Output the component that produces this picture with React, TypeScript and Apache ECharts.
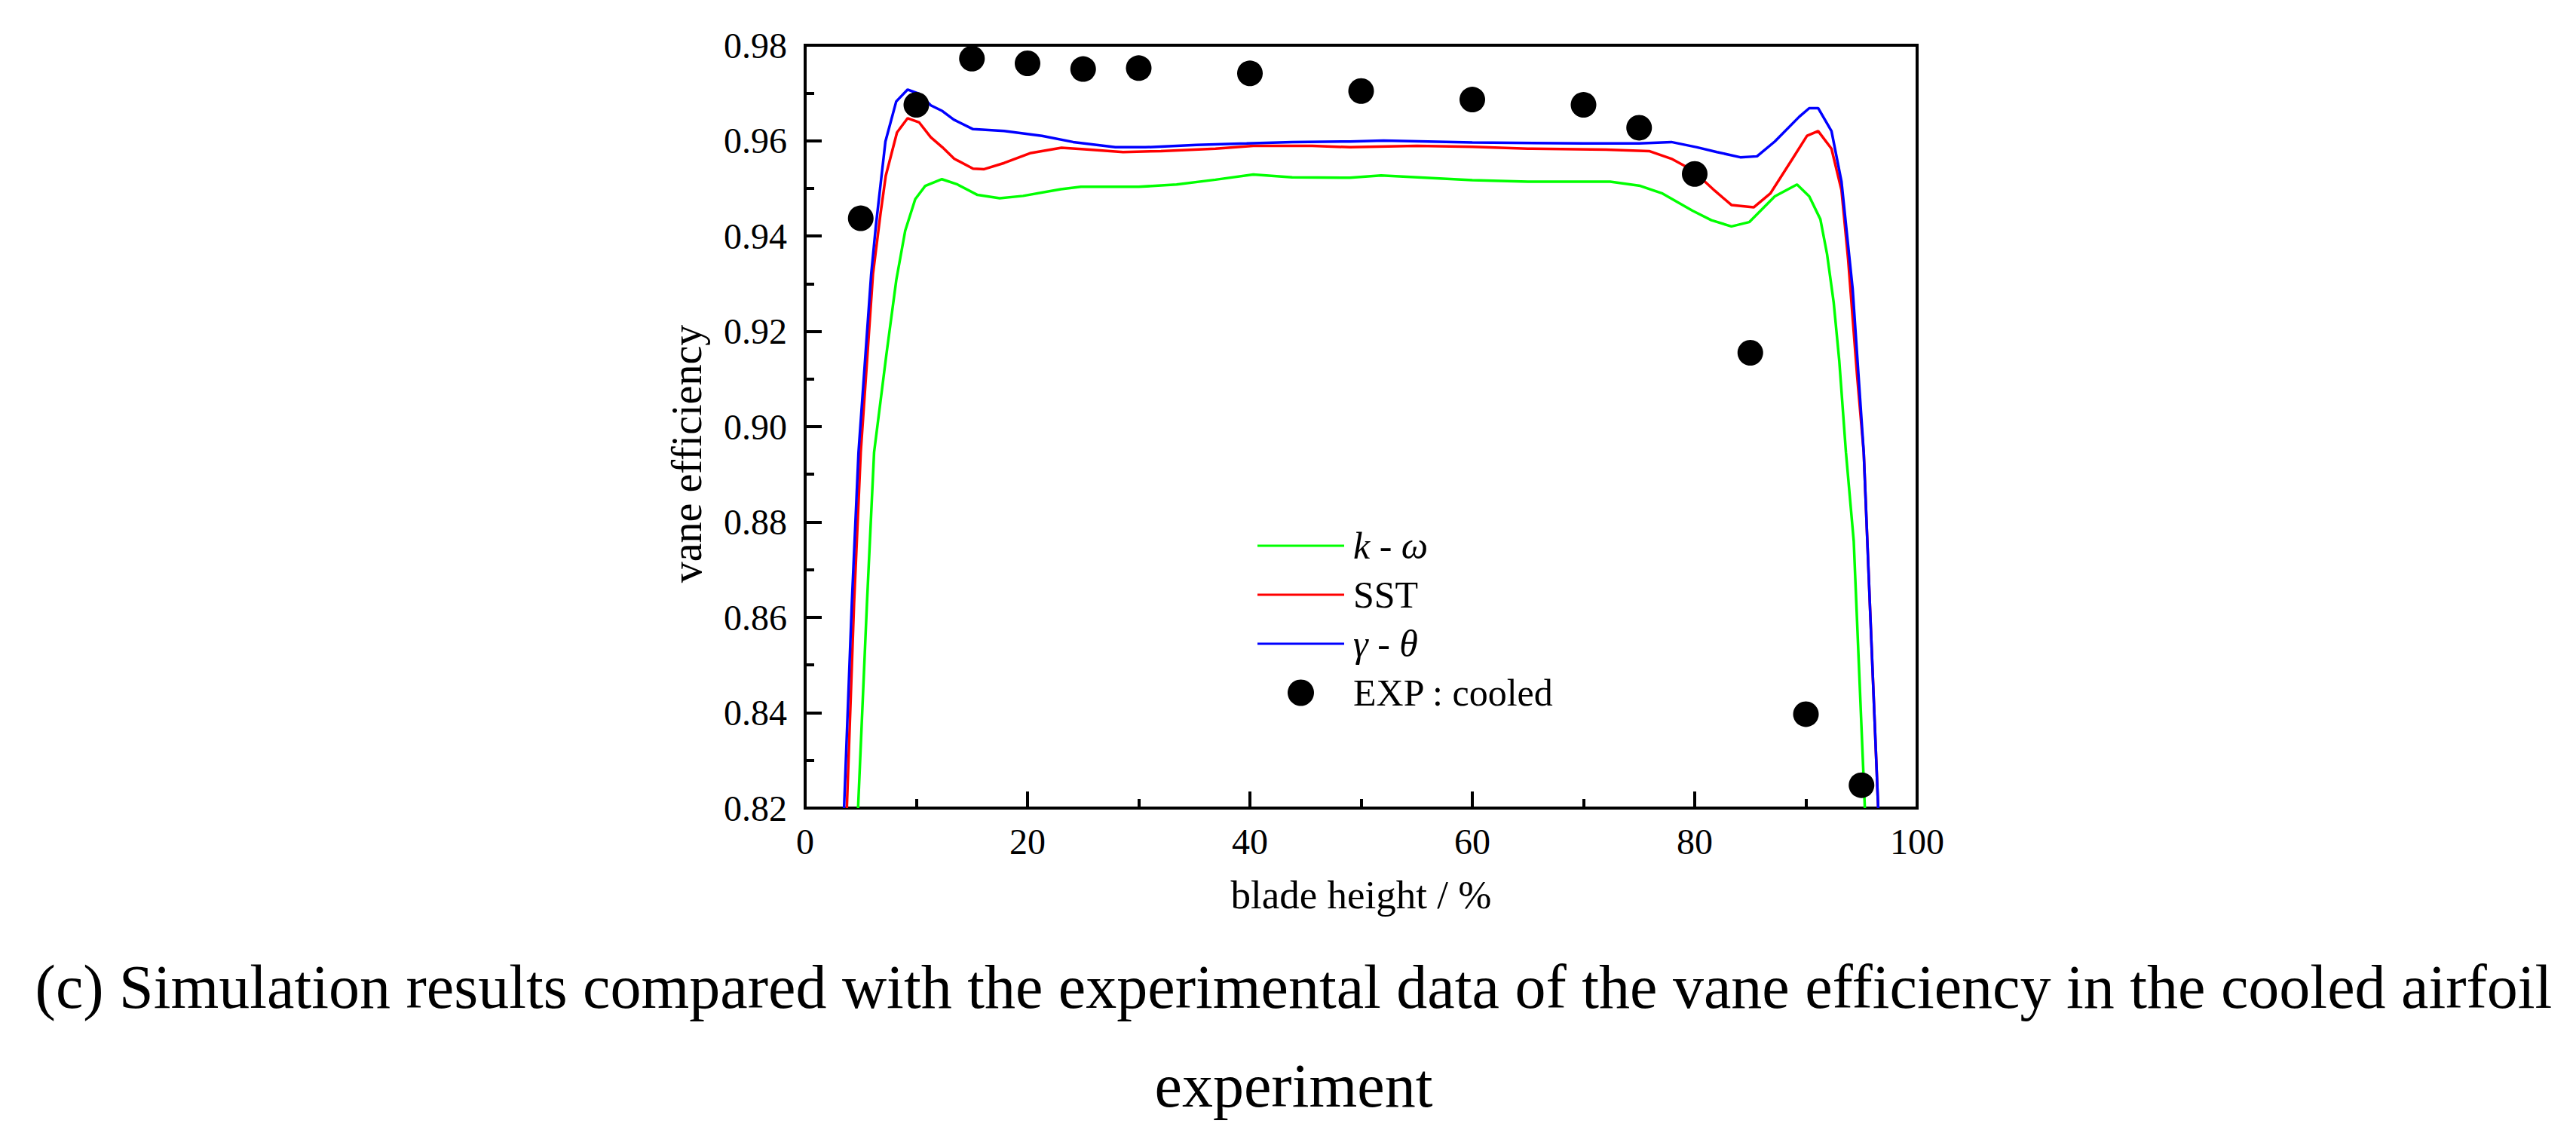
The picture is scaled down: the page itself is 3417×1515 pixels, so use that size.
import React, { useEffect, useRef } from "react";
import * as echarts from "echarts";

// k - omega (green)
const kwX = [4.76, 5.56, 6.2, 7.3, 8.2, 9.0, 9.9, 10.8, 12.3, 13.7, 15.5, 17.5, 19.6, 23.0, 24.8, 30, 33.4, 36.9, 40.3, 43.8, 49, 51.8, 60, 65, 72.4, 75.1, 77.1, 79.8, 81.5, 83.3, 84.9, 87.2, 89.2, 90.3, 91.3, 91.9, 92.5, 93.0, 93.6, 94.3, 95.3];
const kwY = [0.82, 0.863, 0.8946, 0.915, 0.9308, 0.9411, 0.9477, 0.9505, 0.9519, 0.9508, 0.9486, 0.9479, 0.9484, 0.9498, 0.9503, 0.9503, 0.9508, 0.9518, 0.9529, 0.9523, 0.9522, 0.9527, 0.9517, 0.9514, 0.9514, 0.9505, 0.9489, 0.9453, 0.9433, 0.942, 0.9429, 0.9483, 0.9508, 0.9483, 0.9435, 0.9362, 0.926, 0.9138, 0.8946, 0.876, 0.82];

// SST (red)
const sstX = [3.75, 4.4, 5.0, 6.1, 6.78, 7.25, 8.26, 9.22, 10.26, 11.3, 12.34, 13.4, 15.1, 16.1, 17.9, 20.3, 23.05, 25.1, 28.6, 32, 36.9, 40.3, 45.6, 49, 55, 60, 65, 72, 75.9, 77.9, 79.8, 81.8, 83.3, 85.3, 86.8, 88.8, 90.1, 91.1, 92.3, 93.2, 93.8, 94.6, 95.2, 95.8, 96.5];
const sstY = [0.82, 0.863, 0.8946, 0.932, 0.9447, 0.9526, 0.9617, 0.9647, 0.9638, 0.9607, 0.9586, 0.9562, 0.9541, 0.954, 0.9553, 0.9574, 0.9585, 0.9582, 0.9576, 0.9578, 0.9583, 0.9589, 0.9589, 0.9586, 0.9589, 0.9587, 0.9583, 0.9581, 0.9578, 0.9562, 0.9538, 0.9495, 0.9465, 0.946, 0.9489, 0.9562, 0.961, 0.962, 0.9583, 0.9496, 0.935, 0.9108, 0.8946, 0.86, 0.82];

// gamma - theta (blue)
const gtX = [3.5, 4.2, 4.8, 5.94, 6.37, 7.22, 8.19, 9.22, 10.26, 11.3, 12.34, 13.36, 15.1, 17.9, 21.3, 24.1, 27.9, 30.6, 35.2, 39.7, 43.8, 49, 52, 60, 70, 75, 77.9, 80.2, 82, 84.1, 85.6, 87.2, 89.4, 90.3, 91.1, 92.3, 93.2, 94.2, 95.2, 95.8, 96.5];
const gtY = [0.82, 0.863, 0.8946, 0.932, 0.9423, 0.9598, 0.9682, 0.9707, 0.9698, 0.9674, 0.9662, 0.9644, 0.9624, 0.962, 0.961, 0.9597, 0.9586, 0.9586, 0.9591, 0.9594, 0.9597, 0.9598, 0.96, 0.9596, 0.9594, 0.9594, 0.9597, 0.9586, 0.9576, 0.9565, 0.9567, 0.9598, 0.965, 0.9668, 0.9668, 0.962, 0.9514, 0.929, 0.8946, 0.86, 0.82];

// EXP : cooled
const expX = [5, 10, 15, 20, 25, 30, 40, 50, 60, 70, 75, 80, 85, 90, 95];
const expY = [0.9437, 0.9675, 0.9772, 0.9762, 0.975, 0.9752, 0.9741, 0.9704, 0.9686, 0.9675, 0.9627, 0.953, 0.9155, 0.8397, 0.8248];

const seriesNames = ["k - ω", "SST", "γ - θ", "EXP : cooled"];
const legendLabels = ["{i|k} - {i|ω}", "SST", "{i|γ} - {i|θ}", "EXP : cooled"];
const xTicks = [0, 20, 40, 60, 80, 100];
const yTicks = [0.82, 0.84, 0.86, 0.88, 0.9, 0.92, 0.94, 0.96, 0.98];
const xTitle = "blade height / %";
const yTitle = "vane efficiency";
const captionLine1 =
  "(c) Simulation results compared with the experimental data of the vane efficiency in the cooled airfoil";
const captionLine2 = "experiment";

const zip = (xs: number[], ys: number[]) => xs.map((x, i) => [x, ys[i]]);

const FONT = "'Liberation Serif', 'Times New Roman', serif";
const LINE_ICON = "path://M0,0H115V3.2H0Z";

export default function App() {
  const ref = useRef<HTMLDivElement>(null);

  useEffect(() => {
    document.body.style.margin = "0";
    if (!ref.current) return;
    const chart = echarts.init(ref.current, undefined, { renderer: "svg" });
    const lineBase = (name: string, color: string, data: number[][]) => ({
      name,
      type: "line",
      data,
      showSymbol: false,
      symbol: "none",
      lineStyle: { color, width: 3.5 },
      itemStyle: { color },
      z: 3,
    });
    chart.setOption({
      animation: false,
      backgroundColor: "#ffffff",
      textStyle: { fontFamily: FONT },
      grid: {
        left: 1068,
        right: 3417 - 2543,
        top: 60,
        bottom: 1515 - 1072,
        show: true,
        borderColor: "#000",
        borderWidth: 4,
        backgroundColor: "transparent",
      },
      legend: {
        orient: "vertical",
        left: 1663,
        top: 694,
        itemWidth: 115,
        itemHeight: 35,
        itemGap: 15,
        symbolKeepAspect: true,
        data: [
          { name: seriesNames[0], icon: LINE_ICON },
          { name: seriesNames[1], icon: LINE_ICON },
          { name: seriesNames[2], icon: LINE_ICON },
          { name: seriesNames[3], icon: "circle" },
        ],
        formatter: (name: string) => legendLabels[seriesNames.indexOf(name)],
        textStyle: {
          fontFamily: FONT,
          fontSize: 50,
          color: "#000",
          lineHeight: 50,
          padding: [0, 0, 0, 7],
          rich: {
            i: { fontFamily: FONT, fontSize: 50, fontStyle: "italic", color: "#000", lineHeight: 50 },
          },
        },
      },
      xAxis: {
        type: "value",
        min: 0,
        max: 100,
        interval: 20,
        name: xTitle,
        nameLocation: "middle",
        nameGap: 88,
        nameTextStyle: { fontFamily: FONT, fontSize: 53, color: "#000" },
        axisLine: { show: true, lineStyle: { color: "#000", width: 4 } },
        axisTick: { show: true, inside: true, length: 22, lineStyle: { color: "#000", width: 4 } },
        minorTick: { show: true, splitNumber: 2, length: 12, lineStyle: { color: "#000", width: 4 } },
        splitLine: { show: false },
        axisLabel: {
          fontFamily: FONT,
          fontSize: 48,
          color: "#000",
          margin: 20,
          formatter: (v: number) => (xTicks.includes(v) ? String(v) : ""),
        },
      },
      yAxis: {
        type: "value",
        min: 0.82,
        max: 0.98,
        interval: 0.02,
        name: yTitle,
        nameLocation: "middle",
        nameGap: 129,
        nameTextStyle: { fontFamily: FONT, fontSize: 56, color: "#000", padding: [0, 72, 0, 0] },
        axisLine: { show: true, lineStyle: { color: "#000", width: 4 } },
        axisTick: { show: true, inside: true, length: 22, lineStyle: { color: "#000", width: 4 } },
        minorTick: { show: true, splitNumber: 2, length: 12, lineStyle: { color: "#000", width: 4 } },
        splitLine: { show: false },
        axisLabel: {
          fontFamily: FONT,
          fontSize: 48,
          color: "#000",
          margin: 24,
          formatter: (v: number) => {
            const s = v.toFixed(2);
            return yTicks.some((t) => t.toFixed(2) === s) ? s : "";
          },
        },
      },
      series: [
        lineBase(seriesNames[0], "#00ff00", zip(kwX, kwY)),
        lineBase(seriesNames[1], "#ff0000", zip(sstX, sstY)),
        lineBase(seriesNames[2], "#0000ff", zip(gtX, gtY)),
        {
          name: seriesNames[3],
          type: "scatter",
          data: zip(expX, expY),
          symbol: "circle",
          symbolSize: 34,
          itemStyle: { color: "#000", opacity: 1 },
          z: 4,
        },
      ],
      graphic: [
        {
          type: "text",
          x: 1716,
          y: 1309,
          style: {
            text: captionLine1,
            fontFamily: FONT,
            fontSize: 82,
            fill: "#000",
            align: "center",
            verticalAlign: "middle",
          },
        },
        {
          type: "text",
          x: 1716,
          y: 1440,
          style: {
            text: captionLine2,
            fontFamily: FONT,
            fontSize: 82,
            fill: "#000",
            align: "center",
            verticalAlign: "middle",
          },
        },
      ],
    });
    return () => chart.dispose();
  }, []);

  return <div ref={ref} style={{ width: 3417, height: 1515 }} />;
}
